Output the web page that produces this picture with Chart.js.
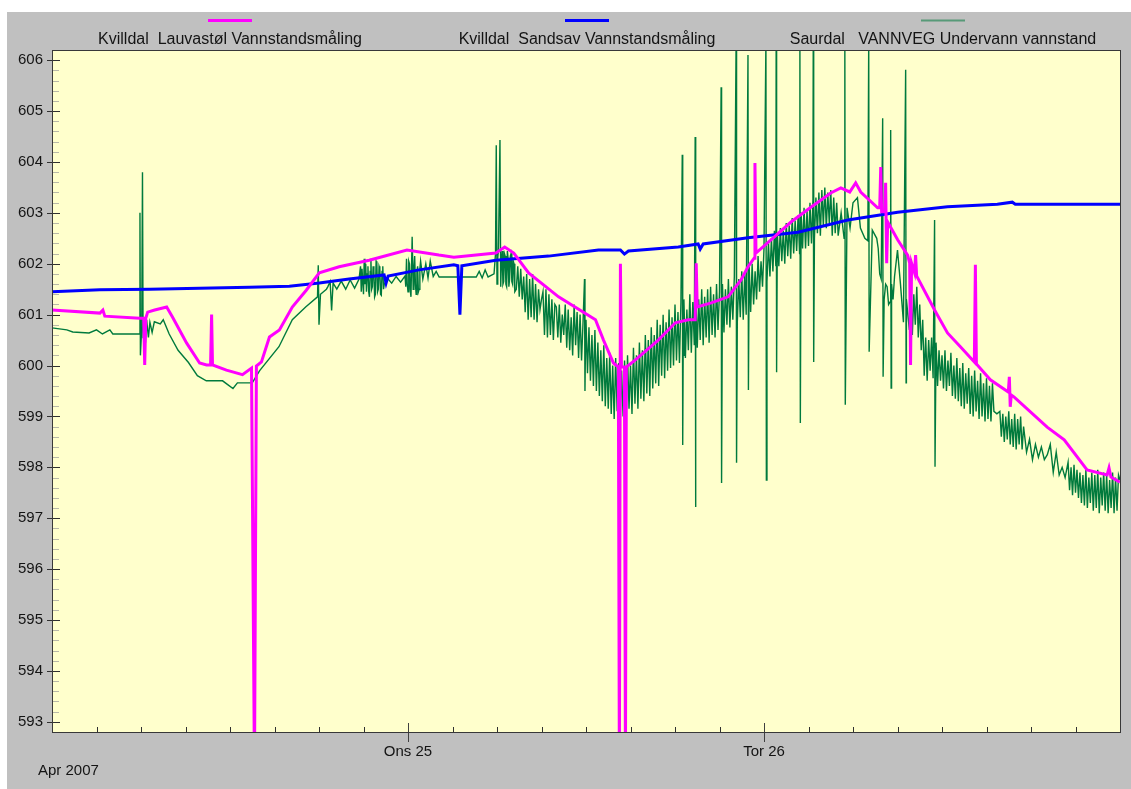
<!DOCTYPE html>
<html>
<head>
<meta charset="utf-8">
<script src="https://cdn.jsdelivr.net/npm/chart.js@4/dist/chart.umd.min.js"></script>
<style>
  body { margin: 0; background: #fff; }
  #wrap { position: absolute; left: 7px; top: 12px; width: 1124px; height: 777px; background: #c0c0c0; }
</style>
</head>
<body>
<div id="wrap"><canvas id="c"></canvas></div>
<script>
// hours since Apr 24 2007 00:00, water level (m)
var seriesNames = ['Kvilldal  Lauvastøl Vannstandsmåling', 'Kvilldal  Sandsav Vannstandsmåling', 'Saurdal   VANNVEG Undervann vannstand'];
var seriesColors = ['#ff00ff', '#0000ff', 'rgb(0,122,61)'];

var xTickHours  = [0, 3, 6, 9, 12, 15, 18, 21, 24, 27, 30, 33, 36, 39, 42, 45, 48, 51, 54, 57, 60, 63, 66, 69, 72];
var xTickLabels = ['', '', '', '', '', '', '', '', 'Ons 25', '', '', '', '', '', '', '', 'Tor 26', '', '', '', '', '', '', '', ''];
var dayHours = [24, 48];
var yTickValues = [593, 594, 595, 596, 597, 598, 599, 600, 601, 602, 603, 604, 605, 606];
var periodLabel = 'Apr 2007';

var lauvastol = [
  [0, 601.09], [3.23, 601.03], [3.43, 601.09], [3.56, 600.97], [5.92, 600.93], [6.18, 600.93], [6.25, 600.01],
  [6.32, 600.93], [6.45, 601.05], [6.92, 601.09], [7.73, 601.15], [8.13, 600.95], [9.08, 600.44], [9.95, 600.05],
  [10.42, 600.01], [10.69, 600.01], [10.76, 601.0], [10.82, 600.01], [11.76, 599.91], [12.84, 599.82], [13.45, 599.95],
  [13.65, 592.0], [13.78, 599.99], [14.12, 600.07], [14.66, 600.56], [15.33, 600.70], [16.2, 601.15], [17.14, 601.48],
  [18.02, 601.82], [19.36, 601.94], [21.38, 602.07], [23.93, 602.27], [26.08, 602.17], [27.09, 602.13], [29.92, 602.21],
  [30.52, 602.33], [31.13, 602.21], [32.13, 601.82], [34.15, 601.35], [36.64, 600.90], [37.18, 600.50], [37.85, 600.05],
  [38.18, 599.97], [38.25, 592.0], [38.32, 602.0], [38.39, 599.97], [38.59, 599.97], [38.66, 592.0], [38.72, 599.97],
  [39.33, 600.11], [40.87, 600.50], [42.02, 600.84], [42.89, 600.90], [43.36, 600.90], [43.43, 602.01], [43.5, 601.15],
  [44.44, 601.23], [45.58, 601.35], [46.45, 601.68], [46.92, 601.94], [47.33, 602.11], [47.39, 603.98], [47.46, 602.21],
  [48.47, 602.47], [49.82, 602.82], [51.16, 603.11], [52.5, 603.39], [53.18, 603.49], [53.78, 603.41], [54.18, 603.59],
  [54.52, 603.41], [55.66, 603.10], [55.8, 603.10], [55.87, 603.9], [55.93, 603.02], [56.13, 603.02], [56.2, 603.59],
  [56.27, 602.01], [56.34, 602.82], [57.01, 602.47], [57.68, 602.17], [57.82, 602.01], [57.88, 600.01], [57.95, 602.01],
  [58.15, 601.82], [58.22, 602.17], [58.29, 601.76], [59.5, 601.09], [60.37, 600.64], [61.24, 600.37], [62.18, 600.07],
  [62.25, 601.98], [62.32, 600.03], [63.26, 599.72], [64.47, 599.48], [64.54, 599.78], [64.6, 599.19], [64.67, 599.42],
  [64.87, 599.38], [67.09, 598.79], [68.24, 598.54], [69.78, 597.95], [71.13, 597.85], [71.26, 597.99], [71.39, 597.81],
  [72, 597.71]
];

var sandsav = [
  [0, 601.45], [3.23, 601.49], [6.59, 601.50], [9.95, 601.52], [13.31, 601.54], [16.0, 601.56], [18.02, 601.62],
  [20.03, 601.70], [22.39, 601.78], [22.52, 601.62], [22.66, 601.76], [24.74, 601.88], [27.09, 601.98], [27.36, 601.96],
  [27.5, 601.0], [27.63, 601.96], [29.92, 602.07], [33.48, 602.15], [36.84, 602.27], [38.32, 602.27], [38.59, 602.19],
  [38.86, 602.25], [42.22, 602.33], [43.56, 602.39], [43.7, 602.29], [43.9, 602.39], [46.92, 602.51], [50.29, 602.62],
  [53.65, 602.86], [57.01, 603.01], [60.37, 603.12], [63.73, 603.17], [64.74, 603.21], [64.94, 603.17], [67.09, 603.17],
  [72, 603.17]
];

var saurdal = [
  [0, 600.74], [1.0, 600.70], [1.4, 600.66], [2.5, 600.64], [3.0, 600.70], [3.4, 600.62], [3.9, 600.70], [4.1, 600.62],
  [5.9, 600.62], [5.93, 603.0], [5.96, 600.2], [6.05, 600.75], [6.1, 603.8], [6.14, 600.55], [6.2, 600.85], [6.3, 600.45],
  [6.38, 600.9], [6.5, 600.55], [6.6, 600.85], [6.75, 600.65], [6.9, 600.86], [7.3, 600.82], [7.5, 600.9], [7.9, 600.62],
  [8.5, 600.3], [9.2, 600.06], [9.8, 599.8], [10.4, 599.7], [11.5, 599.7], [12.2, 599.55], [12.5, 599.66], [13.5, 599.66],
  [14.0, 599.9], [15.3, 600.37], [16.2, 600.9], [17.1, 601.15], [17.9, 601.35], [17.95, 601.97], [18.0, 600.8], [18.1, 601.4],
  [18.5, 601.5], [18.6, 601.55], [18.75, 601.65], [18.85, 601.08], [18.95, 601.62], [19.2, 601.5], [19.5, 601.66],
  [19.8, 601.5], [20.1, 601.68], [20.4, 601.52], [20.7, 601.7], [20.8, 601.95], [20.85, 601.45], [20.9, 601.9], [21.0, 601.4],
  [21.05, 602.1], [21.1, 601.6], [21.15, 602.0], [21.2, 601.45], [21.25, 601.8], [21.3, 601.95], [21.35, 601.45], [21.4, 601.35],
  [21.45, 601.85], [21.5, 602.1], [21.55, 601.5], [21.6, 601.55], [21.65, 601.95], [21.7, 601.85], [21.75, 601.35], [21.8, 601.4],
  [21.85, 602.05], [21.9, 602.0], [21.95, 601.45], [22.0, 601.5], [22.05, 601.95], [22.1, 601.9], [22.15, 601.4], [22.2, 601.38],
  [22.25, 601.85], [22.3, 601.95], [22.35, 601.5], [22.4, 601.6], [22.6, 601.72], [22.9, 601.62], [23.2, 601.75], [23.5, 601.64],
  [23.8, 601.76], [23.85, 601.55], [23.9, 602.1], [23.95, 601.6], [24.0, 601.45], [24.05, 602.05], [24.1, 602.0], [24.15, 601.5],
  [24.2, 601.35], [24.28, 602.53], [24.35, 601.5], [24.4, 601.9], [24.45, 602.15], [24.5, 601.6], [24.55, 601.4], [24.6, 601.85],
  [24.65, 601.95], [24.7, 601.45], [24.75, 601.5], [24.8, 601.9], [24.85, 602.05], [25.0, 601.7], [25.2, 602.0], [25.35, 601.72],
  [25.5, 602.05], [25.7, 601.75], [25.9, 601.85], [26.1, 601.74], [27.5, 601.74], [28.6, 601.74], [28.8, 601.85], [29.0, 601.72],
  [29.2, 601.88], [29.4, 601.74], [29.8, 601.8], [29.9, 602.2], [29.95, 604.33], [30.0, 601.6], [30.05, 602.1], [30.1, 602.3],
  [30.2, 604.43], [30.25, 601.55], [30.3, 602.05], [30.35, 602.25], [30.4, 601.6], [30.45, 601.65], [30.5, 602.2], [30.55, 602.15],
  [30.6, 601.6], [30.65, 601.55], [30.7, 602.25], [30.75, 602.1], [30.8, 601.55], [30.85, 601.7], [30.9, 602.15], [30.95, 602.2],
  [31.0, 601.65], [31.05, 601.6], [31.1, 602.05], [31.15, 602.0], [31.2, 601.45], [31.3, 601.5], [31.4, 601.95], [31.5, 601.35],
  [31.6, 601.9], [31.7, 601.3], [31.8, 601.75], [31.9, 601.05], [32.0, 601.8], [32.1, 600.9], [32.2, 601.7], [32.3, 600.95],
  [32.4, 601.8], [32.5, 600.9], [32.6, 601.6], [32.7, 600.85], [32.8, 601.5], [32.9, 601.1], [33.0, 601.3], [33.1, 601.45],
  [33.2, 600.6], [33.3, 601.5], [33.4, 600.55], [33.5, 601.4], [33.6, 600.6], [33.7, 601.3], [33.8, 600.5], [33.9, 601.2],
  [34.0, 601.15], [34.1, 600.55], [34.2, 601.2], [34.3, 600.45], [34.4, 601.0], [34.5, 600.6], [34.6, 601.2], [34.7, 600.35],
  [34.8, 601.1], [34.9, 600.3], [35.0, 600.95], [35.1, 600.2], [35.2, 601.2], [35.3, 600.4], [35.4, 601.05], [35.5, 600.15],
  [35.6, 601.0], [35.7, 600.1], [35.8, 600.85], [35.9, 601.7], [35.93, 599.5], [35.95, 600.0], [36.0, 600.9], [36.1, 599.85],
  [36.2, 600.75], [36.3, 599.7], [36.4, 600.6], [36.5, 599.6], [36.6, 600.7], [36.7, 599.5], [36.8, 600.45], [36.9, 599.4],
  [37.0, 600.3], [37.1, 599.3], [37.2, 600.4], [37.3, 599.2], [37.4, 600.15], [37.5, 599.15], [37.6, 600.25], [37.7, 599.05],
  [37.8, 600.0], [37.9, 598.95], [38.0, 600.15], [38.1, 599.1], [38.2, 600.05], [38.3, 598.9], [38.4, 599.9], [38.5, 599.0],
  [38.6, 600.1], [38.7, 598.95], [38.8, 600.2], [38.9, 599.15], [39.0, 600.0], [39.1, 599.05], [39.2, 600.35], [39.3, 599.25],
  [39.4, 600.2], [39.5, 599.15], [39.6, 600.45], [39.7, 599.35], [39.8, 600.3], [39.9, 599.3], [40.0, 600.6], [40.1, 599.45],
  [40.2, 600.5], [40.3, 599.4], [40.4, 600.75], [40.5, 599.55], [40.6, 600.6], [40.7, 599.65], [40.8, 600.9], [40.9, 599.6],
  [41.0, 600.8], [41.1, 599.8], [41.2, 601.0], [41.3, 599.75], [41.4, 600.85], [41.5, 599.9], [41.6, 601.1], [41.7, 599.95],
  [41.8, 600.95], [41.9, 600.0], [42.0, 601.2], [42.1, 600.1], [42.2, 601.05], [42.3, 600.05], [42.4, 601.25], [42.49, 604.14],
  [42.52, 598.44], [42.55, 600.2], [42.6, 601.3], [42.7, 600.15], [42.8, 601.1], [42.9, 600.3], [43.0, 601.4], [43.1, 600.25],
  [43.2, 601.25], [43.3, 600.4], [43.36, 604.49], [43.39, 597.22], [43.4, 601.45], [43.5, 600.35], [43.6, 601.3], [43.7, 600.5],
  [43.8, 601.5], [43.9, 600.4], [44.0, 601.35], [44.1, 600.55], [44.2, 601.5], [44.3, 600.45], [44.4, 601.55], [44.5, 600.6],
  [44.6, 601.4], [44.7, 600.55], [44.8, 601.6], [44.9, 600.7], [45.0, 601.45], [45.11, 605.47], [45.14, 597.69], [45.2, 601.6],
  [45.3, 600.65], [45.4, 601.5], [45.5, 600.8], [45.6, 601.7], [45.7, 600.75], [45.8, 601.55], [45.9, 600.9], [46.0, 601.75],
  [46.12, 606.4], [46.15, 598.09], [46.2, 600.85], [46.3, 601.7], [46.4, 600.95], [46.5, 601.85], [46.6, 600.9], [46.7, 601.8],
  [46.8, 601.0], [46.92, 606.1], [46.95, 599.52], [47.0, 601.95], [47.1, 601.05], [47.2, 602.0], [47.3, 601.2], [47.4, 601.85],
  [47.5, 601.3], [47.6, 602.15], [47.7, 601.45], [47.8, 602.05], [47.9, 601.55], [48.0, 602.3], [48.13, 606.4], [48.16, 597.75],
  [48.2, 601.65], [48.3, 602.4], [48.4, 601.75], [48.5, 602.5], [48.6, 601.85], [48.7, 602.65], [48.8, 601.95], [48.82, 606.4],
  [48.85, 599.87], [48.9, 602.6], [49.0, 601.95], [49.1, 602.7], [49.2, 602.05], [49.3, 602.65], [49.4, 602.0], [49.5, 602.8],
  [49.6, 602.15], [49.7, 602.75], [49.8, 602.1], [49.9, 602.9], [50.0, 602.2], [50.1, 602.85], [50.2, 602.25], [50.3, 602.95],
  [50.4, 602.2], [50.42, 606.4], [50.45, 598.87], [50.5, 603.0], [50.6, 602.3], [50.7, 603.1], [50.8, 602.3], [50.9, 603.05],
  [51.0, 602.35], [51.1, 603.2], [51.2, 602.4], [51.3, 603.25], [51.32, 606.4], [51.35, 600.07], [51.4, 602.5], [51.5, 603.3],
  [51.6, 602.6], [51.7, 603.4], [51.8, 602.55], [51.9, 603.45], [52.0, 602.75], [52.1, 603.5], [52.2, 602.7], [52.3, 603.4],
  [52.4, 602.8], [52.5, 603.45], [52.6, 602.55], [52.7, 603.3], [52.8, 602.6], [52.9, 603.2], [53.0, 602.55], [53.2, 603.0],
  [53.4, 602.5], [53.45, 606.4], [53.48, 599.23], [53.6, 603.1], [53.8, 602.7], [54.0, 603.2], [54.3, 603.3], [54.5, 602.7],
  [54.8, 602.5], [55.0, 602.45], [55.06, 606.4], [55.09, 600.27], [55.3, 602.66], [55.6, 602.5], [55.7, 602.3], [55.8, 601.8],
  [55.9, 601.7], [56.0, 604.86], [56.03, 599.78], [56.1, 601.3], [56.2, 601.6], [56.3, 601.55], [56.4, 601.2], [56.5, 601.25],
  [56.54, 604.63], [56.57, 599.56], [56.6, 601.6], [56.7, 601.3], [56.8, 601.75], [57.0, 602.27], [57.2, 601.6], [57.4, 600.85],
  [57.55, 605.81], [57.58, 599.66], [57.6, 601.3], [57.8, 600.7], [57.9, 601.5], [58.0, 600.6], [58.1, 601.4], [58.2, 600.8],
  [58.3, 601.55], [58.4, 600.55], [58.5, 601.2], [58.6, 600.3], [58.7, 600.9], [58.8, 599.8], [58.9, 600.55], [59.0, 599.7],
  [59.1, 600.5], [59.2, 599.9], [59.3, 600.55], [59.4, 599.75], [59.5, 602.86], [59.53, 598.01], [59.6, 600.45], [59.7, 599.6],
  [59.8, 600.3], [59.9, 599.7], [60.0, 600.2], [60.1, 599.55], [60.2, 600.3], [60.3, 599.5], [60.4, 600.1], [60.5, 599.6],
  [60.6, 600.25], [60.7, 599.4], [60.8, 600.0], [60.9, 599.35], [61.0, 600.15], [61.1, 599.3], [61.2, 599.95], [61.3, 599.2],
  [61.4, 600.05], [61.5, 599.15], [61.6, 599.85], [61.7, 599.25], [61.8, 599.95], [61.9, 599.05], [62.0, 599.8], [62.1, 599.0],
  [62.2, 599.9], [62.3, 599.1], [62.4, 599.7], [62.5, 598.95], [62.6, 599.85], [62.7, 599.0], [62.8, 599.65], [62.9, 598.9],
  [63.0, 599.75], [63.1, 598.95], [63.2, 599.6], [63.3, 598.9], [63.4, 599.65], [63.5, 599.1], [63.7, 599.05], [63.9, 599.1],
  [64.0, 598.6], [64.1, 599.05], [64.2, 598.5], [64.3, 599.0], [64.4, 598.55], [64.5, 599.1], [64.6, 598.45], [64.7, 598.95],
  [64.8, 598.4], [64.9, 599.05], [65.0, 598.35], [65.1, 598.95], [65.2, 598.45], [65.3, 599.0], [65.4, 598.35], [65.5, 598.8],
  [65.7, 598.3], [65.9, 598.55], [66.1, 598.15], [66.3, 598.45], [66.5, 598.2], [66.7, 598.4], [66.9, 598.15], [67.1, 598.25],
  [67.3, 598.45], [67.5, 597.9], [67.7, 598.3], [67.9, 597.85], [68.1, 598.0], [68.3, 597.8], [68.5, 598.1], [68.6, 597.55],
  [68.7, 598.0], [68.8, 597.45], [68.9, 598.05], [69.0, 597.5], [69.1, 597.95], [69.2, 597.4], [69.3, 597.9], [69.4, 597.3],
  [69.5, 597.85], [69.6, 597.25], [69.7, 597.95], [69.8, 597.2], [69.9, 597.8], [70.0, 597.3], [70.1, 597.9], [70.2, 597.15],
  [70.3, 597.85], [70.4, 597.2], [70.5, 597.95], [70.6, 597.1], [70.7, 597.8], [70.8, 597.25], [70.9, 597.9], [71.0, 597.15],
  [71.1, 597.85], [71.2, 597.1], [71.3, 597.75], [71.4, 597.2], [71.5, 597.9], [71.6, 597.1], [71.7, 597.8], [71.8, 597.15],
  [71.9, 597.85], [72.0, 597.75]
];

var FONT = "'Liberation Sans', Arial, sans-serif";
var TEXT = '#141414';

function toPoints(list) {
  return list.slice().sort(function(a, b) { return a[0] - b[0]; }).map(function(p) { return { x: p[0], y: p[1] }; });
}

// plot background, frame, tick marks, legend row, period label
var decor = {
  id: 'decor',
  beforeDatasetsDraw: function(chart) {
    var a = chart.chartArea, ctx = chart.ctx;
    ctx.save();
    ctx.fillStyle = '#ffffcc';
    ctx.fillRect(a.left, a.top, a.right - a.left, a.bottom - a.top);
    ctx.restore();
  },
  afterDraw: function(chart) {
    var a = chart.chartArea, ctx = chart.ctx;
    var xs = chart.scales.x, ys = chart.scales.y;
    ctx.save();
    ctx.lineWidth = 1;

    // y minor ticks every 0.2
    ctx.strokeStyle = '#b8b8a8';
    for (var v = 593; v <= 606.1; v += 0.2) {
      if (Math.abs(v - Math.round(v)) < 0.01) continue;
      var py = Math.round(ys.getPixelForValue(v)) + 0.5;
      if (py < a.top || py > a.bottom) continue;
      ctx.beginPath(); ctx.moveTo(a.left, py); ctx.lineTo(a.left + 7, py); ctx.stroke();
    }
    // y major ticks
    ctx.strokeStyle = '#303030';
    yTickValues.forEach(function(t) {
      var py = Math.round(ys.getPixelForValue(t)) + 0.5;
      ctx.beginPath(); ctx.moveTo(a.left - 5, py); ctx.lineTo(a.left + 8, py); ctx.stroke();
    });
    // x ticks
    xTickHours.forEach(function(h) {
      var px = Math.round(xs.getPixelForValue(h)) + 0.5;
      ctx.beginPath();
      if (dayHours.indexOf(h) >= 0) {
        ctx.strokeStyle = '#404040';
        ctx.moveTo(px, a.bottom - 9); ctx.lineTo(px, a.bottom + 10);
      } else {
        ctx.strokeStyle = '#303030';
        ctx.moveTo(px, a.bottom - 5); ctx.lineTo(px, a.bottom);
      }
      ctx.stroke();
    });

    // frame
    ctx.strokeStyle = '#383838';
    ctx.strokeRect(Math.round(a.left) + 0.5, Math.round(a.top) - 0.5, Math.round(a.right - a.left), Math.round(a.bottom - a.top) + 1);

    // legend row
    var centers = [223, 580, 936];
    ctx.font = '16px ' + FONT;
    ctx.textAlign = 'center';
    ctx.textBaseline = 'middle';
    chart.data.datasets.forEach(function(ds, i) {
      ctx.strokeStyle = ds.borderColor;
      ctx.lineWidth = i === 2 ? 2 : 3;
      ctx.globalAlpha = i === 2 ? 0.55 : 1;
      ctx.beginPath(); ctx.moveTo(centers[i] - 22, 8.5); ctx.lineTo(centers[i] + 22, 8.5); ctx.stroke();
      ctx.globalAlpha = 1;
      ctx.fillStyle = TEXT;
      ctx.fillText(ds.label, centers[i], 28);
    });

    ctx.font = '15px ' + FONT;
    ctx.textAlign = 'left';
    ctx.fillText(periodLabel, 31, 759);
    ctx.restore();
  }
};

new Chart(document.getElementById('c').getContext('2d'), {
  type: 'line',
  data: {
    datasets: [
      { label: seriesNames[0], data: toPoints(lauvastol), borderColor: seriesColors[0], borderWidth: 3, order: 1, clip: 0 },
      { label: seriesNames[1], data: toPoints(sandsav), borderColor: seriesColors[1], borderWidth: 3, order: 2, clip: 0 },
      { label: seriesNames[2], data: toPoints(saurdal), borderColor: seriesColors[2], borderWidth: 1.4, order: 3, clip: 0 }
    ]
  },
  options: {
    responsive: true,
    maintainAspectRatio: false,
    animation: false,
    parsing: false,
    elements: { point: { radius: 0 }, line: { tension: 0, borderJoinStyle: 'miter' } },
    layout: { padding: { top: 39, right: 8, left: 0, bottom: 0 } },
    plugins: { legend: { display: false }, tooltip: { enabled: false } },
    scales: {
      x: {
        type: 'linear', min: 0, max: 72,
        grid: { display: false, drawTicks: false },
        border: { display: false },
        afterBuildTicks: function(s) { s.ticks = xTickHours.map(function(h) { return { value: h }; }); },
        afterFit: function(s) { s.height = 57; },
        ticks: {
          autoSkip: false, maxRotation: 0, padding: 11, color: TEXT,
          font: { family: FONT, size: 15 },
          callback: function(v) { return xTickLabels[xTickHours.indexOf(v)] || ''; }
        }
      },
      y: {
        min: 592.8, max: 606.18,
        grid: { display: false, drawTicks: false },
        border: { display: false },
        afterBuildTicks: function(s) { s.ticks = yTickValues.map(function(v) { return { value: v }; }); },
        afterFit: function(s) { s.width = 45; },
        ticks: { padding: 9, color: TEXT, font: { family: FONT, size: 15 } }
      }
    }
  },
  plugins: [decor]
});
</script>
</body>
</html>
